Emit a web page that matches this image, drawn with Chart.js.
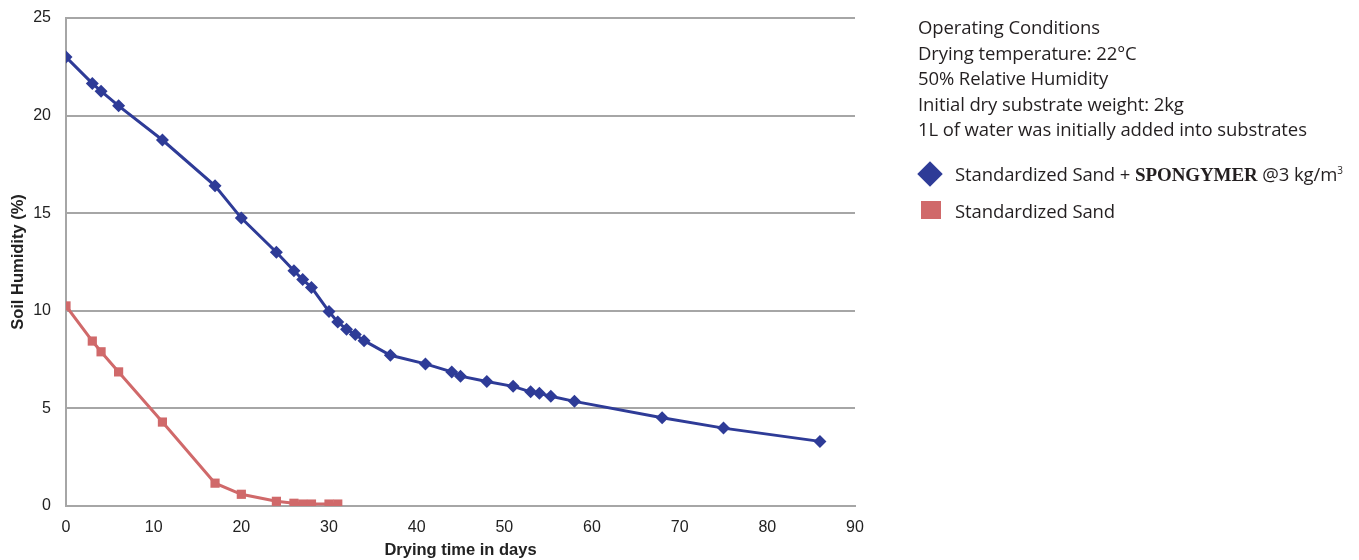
<!DOCTYPE html>
<html>
<head>
<meta charset="utf-8">
<script src="https://cdn.jsdelivr.net/npm/chart.js@4.4.1/dist/chart.umd.min.js"></script>
<style>
    html, body { margin: 0; padding: 0; background: #fff; }
    #wrap { position: relative; width: 1359px; height: 560px; }
    #info {
        position: absolute; left: 918px; top: 14px;
        font-family: "Open Sans", "Noto Sans", sans-serif; font-size: 18.5px;
        line-height: 25.5px; color: #231f20; letter-spacing: -0.1px;
    }
    .leg { position: absolute; left: 918px; font-family: "Open Sans", "Noto Sans", sans-serif;
        font-size: 18.5px; color: #231f20; white-space: nowrap; letter-spacing: -0.1px; }
    .leg b { font-family: "Liberation Serif", "DejaVu Serif", serif; font-size: 19px; }
    .diamond { position: absolute; left: 3px; top: 4px; width: 18px; height: 18px;
        background: #2e3b97; transform: rotate(45deg); }
    .square { position: absolute; left: 3px; top: 3px; width: 20px; height: 18px; background: #d0696a; }
</style>
</head>
<body>
<div id="wrap">
    <canvas id="chartSecagem" width="1359" height="560"></canvas>
    <div id="info">
        Operating Conditions<br>
        Drying temperature: 22°C<br>
        50% Relative Humidity<br>
        Initial dry substrate weight: 2kg<br>
        1L of water was initially added into substrates
    </div>
    <div class="leg" style="top:161px;"><span class="diamond"></span><span style="margin-left:37px;">Standardized Sand + <b>SPONGYMER</b> @3 kg/m<sup style="font-size:10px;">3</sup></span></div>
    <div class="leg" style="top:198px;"><span class="square"></span><span style="margin-left:37px;">Standardized Sand</span></div>
</div>
<script>

/// DADOS

var dias_spongymer = [0, 3, 4, 6, 11, 17, 20, 24, 26, 27, 28, 30, 31, 32, 33, 34, 37, 41, 44, 45, 48, 51, 53, 54, 55.3, 58, 68, 75, 86];
var umidade_spongymer = [23.0, 21.65, 21.25, 20.5, 18.75, 16.4, 14.75, 13.0, 12.05, 11.6, 11.2, 9.96, 9.42, 9.06, 8.78, 8.47, 7.72, 7.28, 6.87, 6.65, 6.38, 6.13, 5.85, 5.77, 5.62, 5.36, 4.52, 3.99, 3.31];

var dias_areia = [0, 3, 4, 6, 11, 17, 20, 24, 26, 27, 28, 30, 31];
var umidade_areia = [10.25, 8.45, 7.9, 6.87, 4.3, 1.17, 0.6, 0.24, 0.14, 0.1, 0.1, 0.1, 0.1];

var ticks_x = [0, 10, 20, 30, 40, 50, 60, 70, 80, 90];
var ticks_y = [0, 5, 10, 15, 20, 25];

function pares(xs, ys) {
    var out = [];
    for (var i = 0; i < xs.length; i++) {
        out.push({ x: xs[i], y: ys[i] });
    }
    return out;
}

const secagem = document.getElementById('chartSecagem');

new Chart(secagem, {
    type: 'line',
    data: {
        datasets: [
            {
                label: 'Standardized Sand + SPONGYMER @3 kg/m3',
                data: pares(dias_spongymer, umidade_spongymer),
                borderColor: '#2e3b97',
                backgroundColor: '#2e3b97',
                borderWidth: 3,
                pointStyle: 'rectRot',
                pointRadius: 6.5,
                pointBorderWidth: 0,
                tension: 0
            },
            {
                label: 'Standardized Sand',
                data: pares(dias_areia, umidade_areia),
                borderColor: '#d0696a',
                backgroundColor: '#d0696a',
                borderWidth: 3,
                pointStyle: 'rect',
                pointRadius: 6.5,
                pointBorderWidth: 0,
                tension: 0
            }
        ]
    },
    options: {
        responsive: false,
        animation: false,
        layout: {
            padding: { top: 18, right: 504, left: 9, bottom: 0 }
        },
        scales: {
            x: {
                type: 'linear',
                min: 0,
                max: 90,
                afterBuildTicks: function (scale) {
                    scale.ticks = ticks_x.map(function (v) { return { value: v }; });
                },
                grid: { display: false, drawTicks: false },
                border: { display: true, color: '#a6a6a6', width: 2 },
                ticks: {
                    color: '#222',
                    font: { family: 'Liberation Sans, Arial', size: 16 },
                    padding: 12,
                    maxRotation: 0
                },
                title: {
                    display: true,
                    text: 'Drying time in days',
                    color: '#222',
                    font: { family: 'Liberation Sans, Arial', size: 16.5, weight: 'bold' },
                    padding: { top: 0, bottom: 0 }
                },
                afterFit: function (scale) { scale.height = 54; }
            },
            y: {
                min: 0,
                max: 25,
                afterBuildTicks: function (scale) {
                    scale.ticks = ticks_y.map(function (v) { return { value: v }; });
                },
                grid: { color: '#a6a6a6', lineWidth: 2, drawTicks: false },
                border: { display: true, color: '#a6a6a6', width: 2 },
                ticks: {
                    color: '#222',
                    font: { family: 'Liberation Sans, Arial', size: 16 },
                    padding: 15
                },
                title: {
                    display: true,
                    text: 'Soil Humidity (%)',
                    color: '#222',
                    font: { family: 'Liberation Sans, Arial', size: 16.5, weight: 'bold' },
                    padding: { top: 0, bottom: 0 }
                },
                afterFit: function (scale) {
                    scale.width = 57;
                    scale.paddingTop = 0;
                    scale.paddingBottom = 0;
                }
            }
        },
        plugins: {
            legend: { display: false },
            tooltip: { enabled: false }
        }
    }
});

</script>
</body>
</html>
